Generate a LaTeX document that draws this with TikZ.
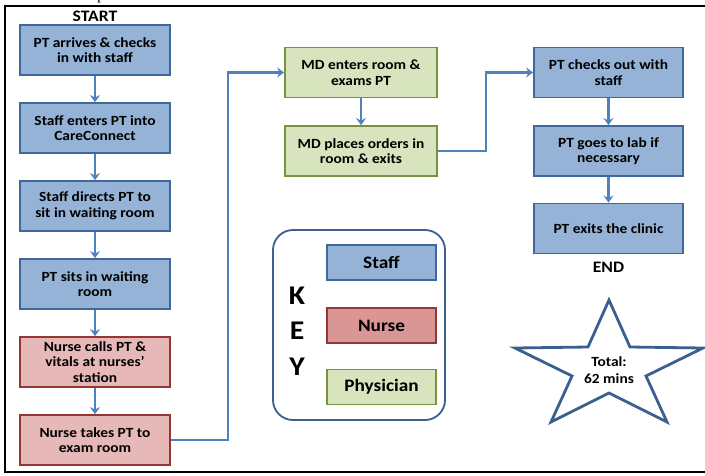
\documentclass[tikz,border=0pt]{standalone}
\usepackage{fontspec}
\setmainfont{Carlito}[FakeStretch=1.1]
\newfontfamily\capserif{Liberation Serif}
\usetikzlibrary{arrows.meta,positioning,calc}
\definecolor{stafffill}{HTML}{95B3D7}
\definecolor{staffline}{HTML}{41689B}
\definecolor{nursefill}{HTML}{E6B9B8}
\definecolor{nursekey}{HTML}{D99694}
\definecolor{nurseline}{HTML}{943634}
\definecolor{physfill}{HTML}{D7E4BD}
\definecolor{physline}{HTML}{77933C}
\definecolor{arrowblue}{HTML}{4F81BD}
\definecolor{keyline}{HTML}{3B5F8E}
\tikzset{
  flowbox/.style={draw, line width=1.8pt, minimum width=150pt, minimum height=50pt, inner sep=0pt, align=center, font=\fontsize{14}{15.5}\selectfont\bfseries},
  staffbox/.style={flowbox, fill=stafffill, draw=staffline},
  nursebox/.style={flowbox, fill=nursefill, draw=nurseline},
  physbox/.style={flowbox, fill=physfill, draw=physline},
  keybox/.style={draw, line width=1.8pt, minimum width=109pt, minimum height=35pt, inner sep=0pt, font=\fontsize{17.5}{19}\selectfont\bfseries},
  arr/.style={draw=arrowblue, line width=2.2pt, -{Stealth[length=7pt,width=10pt,inset=2.5pt]}},
  lbl/.style={font=\fontsize{16}{18}\selectfont\bfseries, inner sep=0pt},
  keyletter/.style={font=\fontsize{27}{30}\selectfont\bfseries, inner sep=0pt},
}
\begin{document}
\begin{tikzpicture}[x=1pt,y=-1pt]
\useasboundingbox (0,0) rectangle (705,475);
% cut-off caption fragment
\node[anchor=base, inner sep=0pt, font=\capserif\fontsize{16}{18}\selectfont] (cap) at (101,-1) {p};
% frame
\draw[line width=2.4pt] (720,6) -- (5,6) -- (5,472) -- (720,472);

% left column
\node[lbl] (start) at (95,16) {START};
\node[staffbox] (a1) at (95,50) {PT arrives \& checks\\in with staff};
\node[staffbox] (a2) at (95,128) {Staff enters PT into\\CareConnect};
\node[staffbox] (a3) at (95,206) {Staff directs PT to\\sit in waiting room};
\node[staffbox] (a4) at (95,284) {PT sits in waiting\\room};
\node[nursebox] (a5) at (95,362) {Nurse calls PT \&\\vitals at nurses’\\station};
\node[nursebox] (a6) at (95,440) {Nurse takes PT to\\exam room};
\draw[arr] (a1) -- (a2);
\draw[arr] (a2) -- (a3);
\draw[arr] (a3) -- (a4);
\draw[arr] (a4) -- (a5);
\draw[arr] (a5) -- (a6);

% middle column
\node[physbox, minimum width=152pt] (m1) at (361,72.5) {MD enters room \&\\exams PT};
\node[physbox, minimum width=152pt] (m2) at (361,151) {MD places orders in\\room \& exits};
\draw[arr] (m1) -- (m2);

% right column
\node[staffbox, minimum width=149pt] (r1) at (608.5,72.5) {PT checks out with\\staff};
\node[staffbox, minimum width=149pt] (r2) at (608.5,151) {PT goes to lab if\\necessary};
\node[staffbox, minimum width=149pt] (r3) at (608.5,228.5) {PT exits the clinic};
\node[lbl] (end) at (608.5,267) {END};
\draw[arr] (r1) -- (r2);
\draw[arr] (r2) -- (r3);

% connectors between columns
\coordinate (j1) at (228,72.5);
\coordinate (j2) at (486,72.5);
\draw[arr] (a6.east) -| (j1) -- (m1.west);
\draw[arr] (m2.east) -| (j2) -- (r1.west);

% key
\draw[draw=keyline, line width=1.8pt, rounded corners=20pt] (273,230) rectangle (445,420);
\node[keybox, fill=stafffill, draw=staffline] (kstaff) at (381.5,262.5) {Staff};
\node[keybox, fill=nursekey, draw=nurseline] (knurse) at (381.5,325.5) {Nurse};
\node[keybox, fill=physfill, draw=physline] (kphys) at (381.5,387) {Physician};
\node[keyletter] (kk) at (297,296) {K};
\node[keyletter] (ke) at (297,331) {E};
\node[keyletter] (ky) at (297,367) {Y};

% star
\draw[draw=keyline, line width=2.8pt, line join=miter, fill=white]
  (609,300) -- (630,347) -- (703,348) -- (646,376) -- (667,422) -- (609,393)
  -- (551,422) -- (572,376) -- (515,348) -- (588,347) -- cycle;
\node[align=center, font=\fontsize{14}{17}\selectfont\bfseries, inner sep=0pt] (total) at (609,370) {Total:\\62 mins};
\end{tikzpicture}
\end{document}
